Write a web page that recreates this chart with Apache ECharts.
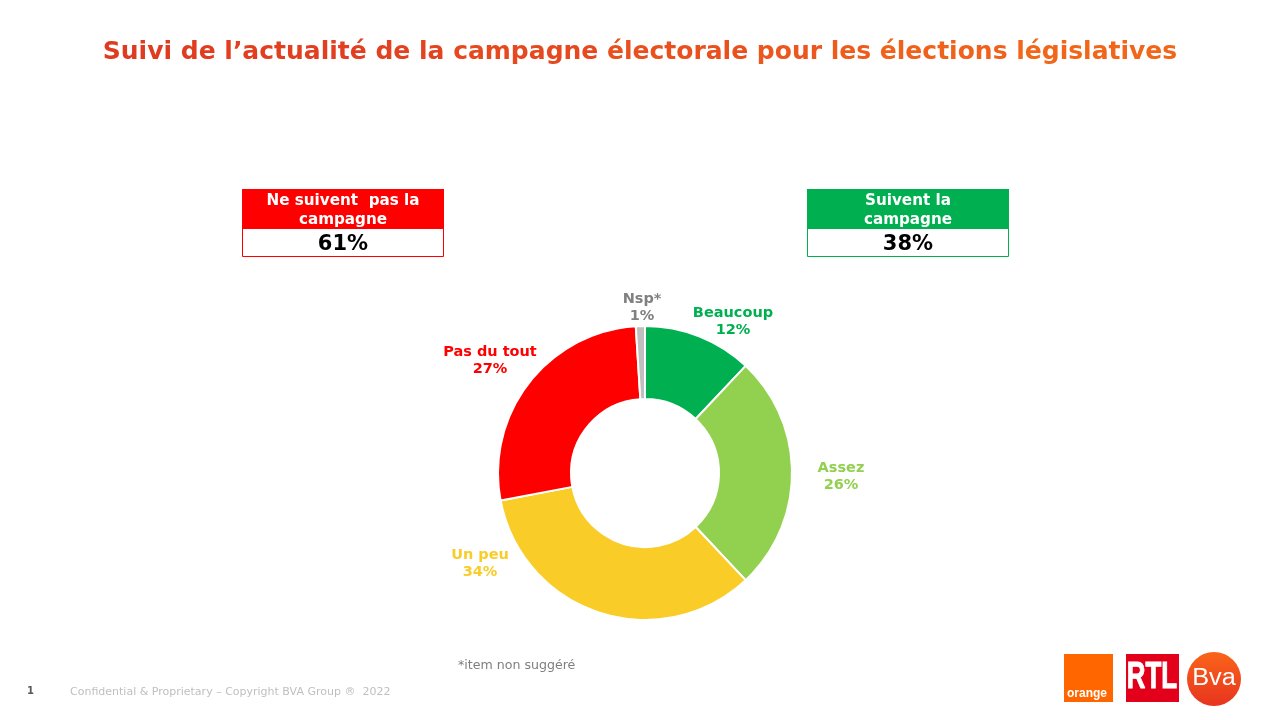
<!DOCTYPE html>
<html><head><meta charset="utf-8">
<style>html,body{margin:0;padding:0;background:#fff}#c{width:1280px;height:720px}</style>
<script src="https://cdn.jsdelivr.net/npm/echarts@6/dist/echarts.min.js"></script>
</head><body><div id="c"></div>
<script>
const categories=['Beaucoup','Assez','Un peu','Pas du tout','Nsp*'];
const values=[12,26,34,27,1];
const colors=['#00b050','#92d050','#f9cc28','#ff0000','#bfbfbf'];
const labelColors=['#00b050','#92d050','#f9cc28','#ff0000','#808080'];
const labelCenters=[[733,321.5],[841,476.5],[480,563.5],[490,360.5],[642,307.5]];
const titleWords=['Suivi','de','l’actualité','de','la','campagne','électorale','pour','les','élections','législatives'];
const titleWordColors=['#df3b20','#e03d20','#e13f20','#e2421f','#e3441f','#e6491f','#e9501e','#ec571d','#ee5c1c','#f0611b','#f2661a'];
const F='"DejaVu Sans",Verdana,sans-serif';
const chart=echarts.init(document.getElementById('c'),null,{renderer:'canvas'});
const titleRich={};
titleWords.forEach((w,i)=>{titleRich['w'+i]={fill:titleWordColors[i],color:titleWordColors[i],font:'bold 25px '+F};});
const titleText=titleWords.map((w,i)=>'{w'+i+'|'+w+(i<titleWords.length-1?' ':'')+'}').join('');
function box(x,color,lines,pct){
  return [
    {type:'rect',shape:{x:x+.5,y:189.5,width:201,height:67},style:{fill:'#fff',stroke:color,lineWidth:1}},
    {type:'rect',shape:{x:x,y:189,width:202,height:40},style:{fill:color}},
    {type:'text',x:x+101,y:210.5,style:{text:lines,fill:'#fff',font:'bold 15.2px '+F,align:'center',verticalAlign:'middle',lineHeight:19.5}},
    {type:'text',x:x+101,y:245,style:{text:pct,fill:'#000',font:'bold 21px '+F,align:'center',verticalAlign:'middle'}}
  ];
}
chart.setOption({
  animation:false,
  backgroundColor:'#fff',
  series:[{
    type:'pie',center:[645,473],radius:[74,147],startAngle:90,clockwise:true,
    itemStyle:{borderColor:'#fff',borderWidth:2},
    label:{show:true,position:'outside',formatter:'{b}\n{c}%',fontFamily:F,fontWeight:'bold',fontSize:14.5,lineHeight:17.5,align:'center',verticalAlign:'middle'},
    labelLine:{show:false},
    labelLayout:p=>({x:labelCenters[p.dataIndex][0],y:labelCenters[p.dataIndex][1],align:'center',verticalAlign:'middle'}),
    data:categories.map((n,i)=>({name:n,value:values[i],itemStyle:{color:colors[i]},label:{color:labelColors[i]}}))
  }],
  graphic:[
    {type:'text',x:640,y:52,style:{text:titleText,rich:titleRich,font:'bold 25px '+F,align:'center',verticalAlign:'middle'}},
    ...box(242,'#ff0000','Ne suivent  pas la\ncampagne','61%'),
    ...box(807,'#00b050','Suivent la\ncampagne','38%'),
    {type:'text',x:458,y:666,style:{text:'*item non suggéré',fill:'#7f7f7f',font:'12.6px '+F,verticalAlign:'middle'}},
    {type:'text',x:27,y:691,style:{text:'1',fill:'#595959',font:'bold 10px '+F,verticalAlign:'middle'}},
    {type:'text',x:70,y:692,style:{text:'Confidential & Proprietary – Copyright BVA Group ®  2022',fill:'#bfbfbf',font:'11px '+F,verticalAlign:'middle'}},
    {type:'rect',shape:{x:1064,y:654,width:49,height:48},style:{fill:'#ff6600'}},
    {type:'text',x:1067,y:694,style:{text:'orange',fill:'#fff',font:'bold 12px "Liberation Sans",sans-serif',verticalAlign:'middle'}},
    {type:'rect',shape:{x:1126,y:654,width:53,height:48},style:{fill:'#e2001a'}},
    {type:'text',x:1152,y:678,scaleX:0.72,style:{text:'RTL',fill:'#fff',stroke:'#fff',lineWidth:1,font:'bold 36px "Liberation Sans",sans-serif',align:'center',verticalAlign:'middle'}},
    {type:'circle',shape:{cx:1214,cy:679,r:27},style:{fill:new echarts.graphic.LinearGradient(0,0,0,1,[{offset:0,color:'#f9641a'},{offset:1,color:'#e8341f'}])}},
    {type:'text',x:1214,y:679,scaleX:1.1,style:{text:'Bva',fill:'#fff',font:'23px "Liberation Sans",sans-serif',align:'center',verticalAlign:'middle'}}
  ]
});
</script></body></html>
